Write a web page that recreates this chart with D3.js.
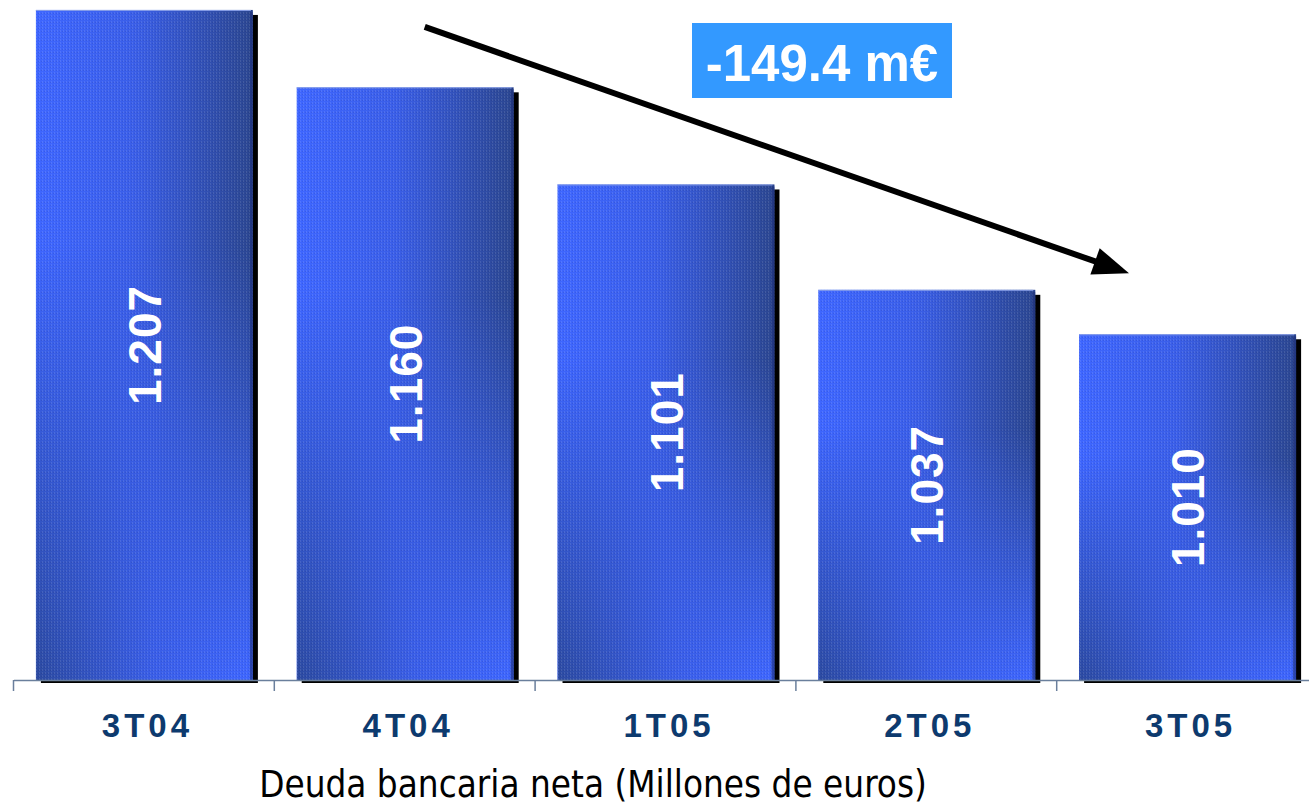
<!DOCTYPE html>
<html>
<head>
<meta charset="utf-8">
<script src="https://cdn.jsdelivr.net/npm/d3@7"></script>
<style>
  body { margin: 0; background: #fff; }
  svg { display: block; }
</style>
</head>
<body>
<div id="chart"></div>
<script>
// data
var periods = ["3T04", "4T04", "1T05", "2T05", "3T05"];
var deuda = [1207, 1160, 1101, 1037, 1010];
var caption = "Deuda bancaria neta (Millones de euros)";
var changeLabel = "-149.4 m€";

var width = 1309, height = 810;
var baseY = 680;

var svg = d3.select("#chart").append("svg")
  .attr("width", width)
  .attr("height", height);

svg.append("rect").attr("width", width).attr("height", height).attr("fill", "#fff");

// x scale - bands, bars centred in each band
var x = d3.scaleBand()
  .domain(periods)
  .range([14, 1318])
  .paddingInner(0.168)
  .paddingOuter(0.084);

// y axis does not start at zero in the original
var y = d3.scaleLinear()
  .domain([800, 1210])
  .range([baseY, 5]);

var es = d3.formatLocale({decimal: ",", thousands: ".", grouping: [3], currency: ["", "€"]});
var fmt = es.format(",d");

var defs = svg.append("defs");

// bars: top bright->dark, bottom dark->bright
var g1 = defs.append("linearGradient").attr("id", "gTop");
g1.append("stop").attr("offset", "0%").attr("stop-color", "#3e66ff");
g1.append("stop").attr("offset", "45%").attr("stop-color", "#3a5ee8");
g1.append("stop").attr("offset", "100%").attr("stop-color", "#2b4690");

var g2 = defs.append("linearGradient").attr("id", "gBot");
g2.append("stop").attr("offset", "0%").attr("stop-color", "#2c4aa0");
g2.append("stop").attr("offset", "55%").attr("stop-color", "#3a5ee8");
g2.append("stop").attr("offset", "100%").attr("stop-color", "#3e66ff");

var gm = defs.append("linearGradient").attr("id", "gMask")
  .attr("x1", 0).attr("y1", 0).attr("x2", 0).attr("y2", 1);
gm.append("stop").attr("offset", "0%").attr("stop-color", "#000");
gm.append("stop").attr("offset", "35%").attr("stop-color", "#000");
gm.append("stop").attr("offset", "100%").attr("stop-color", "#fff");

defs.append("mask").attr("id", "botMask")
  .attr("maskContentUnits", "objectBoundingBox")
  .append("rect").attr("width", 1).attr("height", 1).attr("fill", "url(#gMask)");

// fine woven texture
var pat = defs.append("pattern").attr("id", "weave")
  .attr("patternUnits", "userSpaceOnUse")
  .attr("width", 3).attr("height", 3);
pat.append("rect").attr("x", 0).attr("y", 0).attr("width", 1).attr("height", 2)
  .attr("fill", "#ffffff").attr("opacity", 0.1);
pat.append("rect").attr("x", 2).attr("y", 1).attr("width", 1).attr("height", 1)
  .attr("fill", "#000033").attr("opacity", 0.1);

var bars = svg.append("g").selectAll("g")
  .data(periods)
  .enter().append("g");

// shadow
bars.append("rect")
  .attr("x", function(d) { return x(d) + 5; })
  .attr("y", function(d, i) { return y(deuda[i]) + 5; })
  .attr("width", x.bandwidth())
  .attr("height", function(d, i) { return baseY + 3 - y(deuda[i]) - 5; })
  .attr("fill", "#000");

bars.append("rect")
  .attr("x", function(d) { return x(d); })
  .attr("y", function(d, i) { return y(deuda[i]); })
  .attr("width", x.bandwidth())
  .attr("height", function(d, i) { return baseY - y(deuda[i]); })
  .attr("fill", "url(#gTop)");

bars.append("rect")
  .attr("x", function(d) { return x(d); })
  .attr("y", function(d, i) { return y(deuda[i]); })
  .attr("width", x.bandwidth())
  .attr("height", function(d, i) { return baseY - y(deuda[i]); })
  .attr("fill", "url(#gBot)")
  .attr("mask", "url(#botMask)");

bars.append("rect")
  .attr("x", function(d) { return x(d); })
  .attr("y", function(d, i) { return y(deuda[i]); })
  .attr("width", x.bandwidth())
  .attr("height", function(d, i) { return baseY - y(deuda[i]); })
  .attr("fill", "url(#weave)");

// light top edge
bars.append("line")
  .attr("x1", function(d) { return x(d); })
  .attr("x2", function(d) { return x(d) + x.bandwidth() - 2; })
  .attr("y1", function(d, i) { return y(deuda[i]) + 0.5; })
  .attr("y2", function(d, i) { return y(deuda[i]) + 0.5; })
  .attr("stroke", "#8aa0e8").attr("stroke-width", 1);

// dark right edge
bars.append("rect")
  .attr("x", function(d) { return x(d) + x.bandwidth() - 3; })
  .attr("y", function(d, i) { return y(deuda[i]) + 2; })
  .attr("width", 3)
  .attr("height", function(d, i) { return baseY - y(deuda[i]) - 2; })
  .attr("fill", "#1e2f78").attr("opacity", 0.6);

// value labels (rotated)
bars.append("text")
  .attr("transform", function(d, i) {
    var cx = x(d) + x.bandwidth() / 2;
    var cy = (y(deuda[i]) + baseY) / 2;
    return "translate(" + cx + "," + cy + ") rotate(-90)";
  })
  .attr("text-anchor", "middle")
  .attr("dy", "0.36em")
  .style("font-family", "'Liberation Sans', Arial, sans-serif")
  .style("font-weight", "bold")
  .style("font-size", "46px")
  .style("letter-spacing", "1px")
  .attr("fill", "#fff")
  .text(function(d, i) { return fmt(deuda[i]); });

// x axis
var axisG = svg.append("g").attr("transform", "translate(0," + baseY + ")");
axisG.append("line")
  .attr("x1", 14).attr("x2", width).attr("y1", 0.5).attr("y2", 0.5)
  .attr("stroke", "#6a7f9c").attr("stroke-width", 1.5);

var tickXs = periods.map(function(d) { return x(d) - x.step() * x.paddingInner() / 2 - 0.5; });
tickXs.push(x(periods[periods.length - 1]) + x.bandwidth() + x.step() * x.paddingInner() / 2);
axisG.selectAll(".tick")
  .data(tickXs)
  .enter().append("line")
  .attr("x1", function(d) { return d; })
  .attr("x2", function(d) { return d; })
  .attr("y1", 0).attr("y2", 11)
  .attr("stroke", "#6a7f9c").attr("stroke-width", 1.5);

axisG.selectAll(".lbl")
  .data(periods)
  .enter().append("text")
  .attr("x", function(d) { return x(d) + x.bandwidth() / 2 + 3; })
  .attr("y", 57)
  .attr("text-anchor", "middle")
  .style("font-family", "'Liberation Sans', Arial, sans-serif")
  .style("font-weight", "bold")
  .style("font-size", "33px")
  .style("letter-spacing", "4px")
  .attr("fill", "#0d3a6e")
  .text(function(d) { return d; });

// caption
svg.append("text")
  .attr("x", 593)
  .attr("y", 797)
  .attr("text-anchor", "middle")
  .style("font-family", "'DejaVu Sans Condensed', 'DejaVu Sans', sans-serif")
  .style("font-size", "36.5px")
  .attr("fill", "#000")
  .text(caption);

// trend arrow from 3T04 level down to 3T05 level
var ax1 = x(periods[1]) + x.bandwidth() * 0.59, ay1 = y(deuda[0]) + 17;
var ax2 = x(periods[4]) + x.bandwidth() * 0.23, ay2 = y(deuda[4]) - 61;
var ang = Math.atan2(ay2 - ay1, ax2 - ax1);
var headLen = 36, headW = 14;
var bx = ax2 - headLen * Math.cos(ang), by = ay2 - headLen * Math.sin(ang);

svg.append("line")
  .attr("x1", ax1).attr("y1", ay1)
  .attr("x2", bx + 4 * Math.cos(ang)).attr("y2", by + 4 * Math.sin(ang))
  .attr("stroke", "#000").attr("stroke-width", 6);

svg.append("path")
  .attr("d", d3.line()([
    [ax2, ay2],
    [bx + headW * Math.sin(ang), by - headW * Math.cos(ang)],
    [bx - headW * Math.sin(ang), by + headW * Math.cos(ang)]
  ]) + "Z")
  .attr("fill", "#000");

// change box
svg.append("rect")
  .attr("x", 692).attr("y", 23)
  .attr("width", 260).attr("height", 75)
  .attr("fill", "#3399ff");

svg.append("text")
  .attr("x", 822).attr("y", 81)
  .attr("text-anchor", "middle")
  .style("font-family", "'Liberation Sans', Arial, sans-serif")
  .style("font-weight", "bold")
  .style("font-size", "51px")
  .attr("fill", "#fff")
  .text(changeLabel);
</script>
</body>
</html>
